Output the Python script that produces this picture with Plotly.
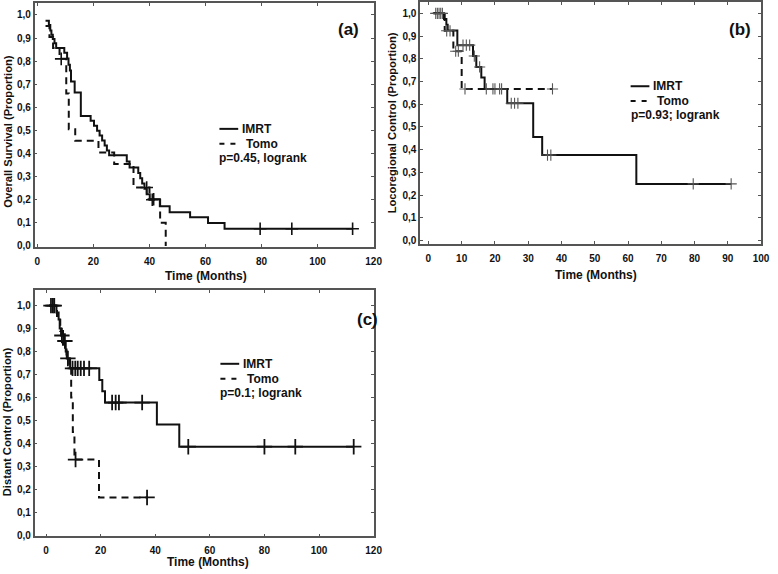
import plotly.graph_objects as go

W, H = 778, 574

# ---- data ----
# (a) overall survival
a_imrt_t = [2.9, 4.1, 4.6, 5.0, 5.5, 6.1, 6.7, 9.6, 10.6, 11.1, 11.6, 12.0, 13.3, 15.5, 19.0, 20.2, 21.3, 22.2,
            23.1, 24.0, 24.8, 25.6, 31.9, 32.9, 36.0, 36.7, 37.4, 38.2, 39.0, 40.1, 43.7, 47.2, 54.5, 60.9, 66.8]
a_imrt_s = [0.975, 0.957, 0.933, 0.914, 0.896, 0.878, 0.857, 0.836, 0.812, 0.785, 0.76, 0.712, 0.664, 0.563,
            0.542, 0.52, 0.499, 0.478, 0.456, 0.435, 0.413, 0.393, 0.366, 0.34, 0.316, 0.293, 0.27, 0.247,
            0.224, 0.202, 0.172, 0.146, 0.124, 0.099, 0.074]
a_imrt_cens = [41.5, 79.5, 90.8, 112.5]
a_tomo_t = [2.9, 4.3, 5.6, 7.9, 10.3, 11.2, 13.5, 21.8, 27.4, 34.3, 40.0, 43.8, 45.8]
a_tomo_s = [0.952, 0.905, 0.857, 0.81, 0.66, 0.505, 0.455, 0.405, 0.355, 0.253, 0.2, 0.1, 0.0]
a_tomo_cens = [8.5, 39.0, 41.0]

# (b) locoregional control
b_imrt_t = [1.5, 4.7, 5.4, 5.8, 8.7, 13.4, 14.4, 15.9, 16.9, 23.7, 31.5, 34.2, 62.5]
b_imrt_s = [1.0, 0.975, 0.95, 0.924, 0.86, 0.812, 0.764, 0.718, 0.667, 0.604, 0.456, 0.376, 0.249]
b_imrt_cens = [2.2, 3.2, 4.2, 10.4, 11.4, 12.4, 13.8, 15.4, 17.4, 19.4, 21.4, 24.9, 25.9, 26.9,
               35.8, 36.8, 79.6, 91.0]
b_tomo_t = [1.5, 4.9, 7.5, 10.0]
b_tomo_s = [1.0, 0.923, 0.833, 0.667]
b_tomo_cens = [2.7, 3.7, 5.5, 6.5, 8.2, 9.0, 11.0, 20.0, 22.0, 37.3]

# (c) distant control
c_imrt_t = [1.2, 3.8, 4.6, 5.0, 5.5, 6.4, 7.2, 7.6, 8.8, 19.5, 20.6, 21.6, 40.6, 48.8]
c_imrt_s = [1.0, 0.97, 0.94, 0.90, 0.87, 0.846, 0.80, 0.77, 0.727, 0.676, 0.627, 0.578, 0.483, 0.386]
c_imrt_cens = [1.8, 3.0, 5.8, 6.9, 8.0, 9.7, 10.7, 11.6, 12.7, 13.9, 15.8, 24.2, 25.5, 26.7, 35.2,
               52.1, 80.0, 91.3, 112.7]
c_tomo_t = [1.2, 4.0, 5.2, 6.2, 7.5, 8.5, 9.2, 9.8, 10.4, 19.4]
c_tomo_s = [1.0, 0.95, 0.89, 0.83, 0.77, 0.727, 0.6, 0.45, 0.33, 0.165]
c_tomo_cens = [2.5, 10.8, 37.0]

x_ticks_a = [0, 20, 40, 60, 80, 100, 120]
x_ticks_b = [0, 10, 20, 30, 40, 50, 60, 70, 80, 90, 100]
y_ticks = [0.0, 0.1, 0.2, 0.3, 0.4, 0.5, 0.6, 0.7, 0.8, 0.9, 1.0]
y_tick_text = ["0,0", "0,1", "0,2", "0,3", "0,4", "0,5", "0,6", "0,7", "0,8", "0,9", "1,0"]

y_titles = ["Overall Survival (Proportion)", "Locoregional Control (Proportion)", "Distant Control (Proportion)"]
p_texts = ["p=0.45, logrank", "p=0.93; logrank", "p=0.1; logrank"]
panel_tags = ["(a)", "(b)", "(c)"]
group_names = ["IMRT", "Tomo"]

FONT = "Liberation Sans, Arial, sans-serif"
INK = "#111111"


def px(x):
    return x / W


def py(y):
    return 1 - y / H


def surv_at(times, surv, t):
    val = surv[0]
    for ti, si in zip(times, surv):
        if ti <= t:
            val = si
    return val


def add_group(fig, times, surv, cens, dash, xa, ya, msize, mcolor, mwidth):
    end = max([times[-1]] + cens)
    xs = list(times) + ([end] if end > times[-1] else [])
    ys = list(surv) + ([surv[-1]] if end > times[-1] else [])
    fig.add_trace(go.Scatter(x=xs, y=ys, mode="lines", line_shape="hv",
                             line=dict(color=INK, width=2, dash=dash),
                             xaxis=xa, yaxis=ya, hoverinfo="skip"))
    fig.add_trace(go.Scatter(x=cens, y=[surv_at(times, surv, c) for c in cens], mode="markers",
                             marker=dict(symbol="cross-thin", size=msize,
                                         line=dict(color=mcolor, width=mwidth)),
                             xaxis=xa, yaxis=ya, hoverinfo="skip"))


fig = go.Figure()
add_group(fig, a_imrt_t, a_imrt_s, a_imrt_cens, "solid", "x", "y", 9, INK, 1.6)
add_group(fig, a_tomo_t, a_tomo_s, a_tomo_cens, "7px,5px", "x", "y", 9, INK, 1.6)
add_group(fig, b_imrt_t, b_imrt_s, b_imrt_cens, "solid", "x2", "y2", 8, "#555555", 1.1)
add_group(fig, b_tomo_t, b_tomo_s, b_tomo_cens, "7px,5px", "x2", "y2", 8, "#555555", 1.1)
add_group(fig, c_imrt_t, c_imrt_s, c_imrt_cens, "solid", "x3", "y3", 11, INK, 1.8)
add_group(fig, c_tomo_t, c_tomo_s, c_tomo_cens, "7px,5px", "x3", "y3", 11, INK, 1.8)

# panel boxes in pixels: left, right, top, bottom
boxes = [(35, 378, 3, 249), (425, 770, 2, 246), (35, 378, 293, 541)]
x_ranges = [[-1, 120], [-2.5, 100], [-4.2, 120]]
y_ranges = [[-0.004, 1.052], [-0.015, 1.05], [-0.004, 1.066]]
x_tick_sets = [x_ticks_a, x_ticks_b, x_ticks_a]

axis_common = dict(showline=True, linecolor="#555555", linewidth=1.5, mirror="ticks",
                   ticks="inside", ticklen=3, tickcolor="#555555", showgrid=False, zeroline=False,
                   tickfont=dict(family=FONT, size=10, color=INK, weight="bold"))

layout = {}
for i, (l, r, t, b) in enumerate(boxes):
    sfx = "" if i == 0 else str(i + 1)
    layout["xaxis" + sfx] = dict(domain=[px(l), px(r)], range=x_ranges[i], anchor="y" + sfx,
                                 tickvals=x_tick_sets[i], ticklabelstandoff=4, **axis_common)
    layout["yaxis" + sfx] = dict(domain=[py(b), py(t)], range=y_ranges[i], anchor="x" + sfx,
                                 tickvals=y_ticks, ticktext=y_tick_text, **axis_common)

fig.update_layout(width=W, height=H, margin=dict(l=0, r=0, t=0, b=0),
                  paper_bgcolor="white", plot_bgcolor="white", showlegend=False, **layout)

# text positions (pixels)
x_title_pos = [(208, 278), (603, 277), (210, 567)]
y_title_pos = [(8, 132), (397, 124), (7, 425)]
tag_pos = [(353, 30), (749, 30), (372, 322)]
legend_pos = [(222, 130), (638, 87), (223, 367)]  # left of solid sample, first row centre

annos = []
shapes = []
for i in range(3):
    annos.append(dict(x=px(x_title_pos[i][0]), y=py(x_title_pos[i][1]), text="Time (Months)",
                      font=dict(family=FONT, size=12, color=INK, weight="bold")))
    annos.append(dict(x=px(y_title_pos[i][0]), y=py(y_title_pos[i][1]), text=y_titles[i], textangle=-90,
                      font=dict(family=FONT, size=11.2, color=INK, weight="bold")))
    annos.append(dict(x=px(tag_pos[i][0]), y=py(tag_pos[i][1]), text=panel_tags[i],
                      font=dict(family=FONT, size=17, color=INK, weight="bold")))
    lx, ly = legend_pos[i]
    shapes.append(dict(type="line", xref="paper", yref="paper", x0=px(lx), x1=px(lx + 19),
                       y0=py(ly), y1=py(ly), line=dict(color=INK, width=2)))
    shapes.append(dict(type="line", xref="paper", yref="paper", x0=px(lx), x1=px(lx + 17),
                       y0=py(ly + 15), y1=py(ly + 15), line=dict(color=INK, width=2, dash="5px,6px")))
    annos.append(dict(x=px(lx + 21), y=py(ly), text=group_names[0], xanchor="left",
                      font=dict(family=FONT, size=12, color=INK, weight="bold")))
    annos.append(dict(x=px(lx + 25), y=py(ly + 15), text=group_names[1], xanchor="left",
                      font=dict(family=FONT, size=12, color=INK, weight="bold")))
    annos.append(dict(x=px(lx - 2), y=py(ly + 29), text=p_texts[i], xanchor="left",
                      font=dict(family=FONT, size=12, color=INK, weight="bold")))

for a in annos:
    a.update(xref="paper", yref="paper", showarrow=False)
    a.setdefault("xanchor", "center")
    a["yanchor"] = "middle"
fig.update_layout(annotations=annos, shapes=shapes)

# the page's default body margin would push the figure 8px right/down
fig.write_html("out.html", config={"displayModeBar": False},
               post_script="document.body.style.margin='0';")
